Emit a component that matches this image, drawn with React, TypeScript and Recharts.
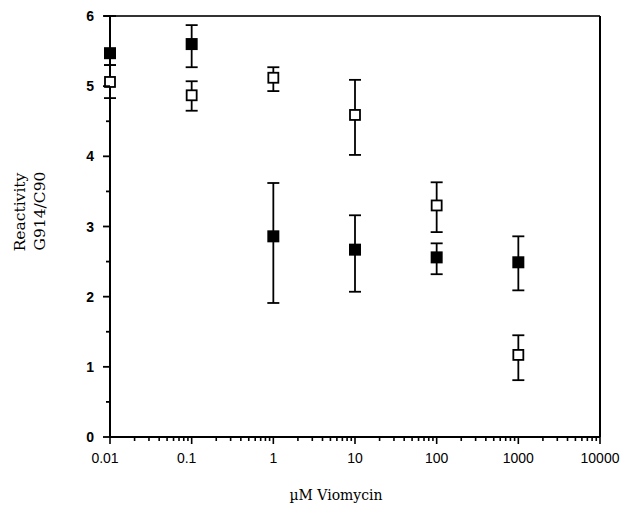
import React from 'react';
import { ScatterChart, Scatter, XAxis, YAxis, ErrorBar, ReferenceLine } from 'recharts';

const concentrations = [0.01, 0.1, 1, 10, 100, 1000];
const filledValues = [5.47, 5.6, 2.86, 2.67, 2.56, 2.49];
const filledErrLow = [0.17, 0.33, 0.95, 0.6, 0.24, 0.4];
const filledErrHigh = [0.53, 0.27, 0.76, 0.49, 0.2, 0.37];
const openValues = [5.06, 4.87, 5.12, 4.59, 3.3, 1.17];
const openErrLow = [0.23, 0.22, 0.19, 0.57, 0.38, 0.36];
const openErrHigh = [0.24, 0.2, 0.15, 0.5, 0.33, 0.28];

const xMajorTicks = [0.01, 0.1, 1, 10, 100, 1000, 10000];
const xMinorMultipliers = [2, 3, 4, 5, 6, 7, 8, 9];
const yMajorTicks = [0, 1, 2, 3, 4, 5, 6];
const yMinorTicks = [0.5, 1.5, 2.5, 3.5, 4.5, 5.5];

const xTicks: number[] = [];
xMajorTicks.forEach((m, i) => {
  xTicks.push(m);
  if (i < xMajorTicks.length - 1) xMinorMultipliers.forEach((k) => xTicks.push(Number((m * k).toPrecision(3))));
});
const yTicks = [...yMajorTicks, ...yMinorTicks].sort((a, b) => a - b);

const filledData = concentrations.map((x, i) => ({ x, y: filledValues[i], err: [filledErrLow[i], filledErrHigh[i]] }));
const openData = concentrations.map((x, i) => ({ x, y: openValues[i], err: [openErrLow[i], openErrHigh[i]] }));

const isMajorX = (v: number) => xMajorTicks.some((m) => Math.abs(m - v) / m < 1e-6);

const XTick = (props: any) => {
  const { x, y, payload } = props;
  const v = payload.value;
  const major = isMajorX(v);
  const label = String(v);
  return (
    <g>
      <line x1={x} x2={x} y1={y} y2={y + (major ? 7 : 4)} stroke="#000" strokeWidth={1.6} />
      {major && (
        <text x={x + (label.includes('.') ? -5 : 0)} y={y + 26} textAnchor="middle" fontFamily="Liberation Sans, Arial, sans-serif" fontSize={14} fill="#000">
          {label}
        </text>
      )}
    </g>
  );
};

const YTick = (props: any) => {
  const { x, y, payload } = props;
  const v = payload.value;
  const major = yMajorTicks.includes(v);
  return (
    <g>
      <line x1={x} x2={x - (major ? 7 : 4)} y1={y} y2={y} stroke="#000" strokeWidth={1.8} />
      {major && (
        <text x={x - 16} y={y} textAnchor="end" dominantBaseline="central" fontFamily="Liberation Sans, Arial, sans-serif" fontWeight="bold" fontSize={14} fill="#000">
          {v}
        </text>
      )}
    </g>
  );
};

const FilledSquare = (props: any) => {
  const { cx, cy } = props;
  return <rect x={cx - 6} y={cy - 6} width={12} height={12} fill="#000" />;
};

const OpenSquare = (props: any) => {
  const { cx, cy } = props;
  return <rect x={cx - 5} y={cy - 5} width={10} height={10} fill="#fff" stroke="#000" strokeWidth={1.8} />;
};

const serif = 'DejaVu Serif, Liberation Serif, serif';

export default function App() {
  return (
    <div style={{ position: 'absolute', left: 0, top: 0, width: 626, height: 505, background: '#fff' }}>
      <ScatterChart width={626} height={505} margin={{ top: 16, right: 26, left: 0, bottom: 0 }}>
        <XAxis
          type="number"
          dataKey="x"
          scale="log"
          domain={[0.01, 10000]}
          ticks={xTicks}
          interval={0}
          tick={<XTick />}
          tickLine={false}
          tickSize={0}
          tickMargin={0}
          height={68}
          axisLine={{ stroke: '#000', strokeWidth: 2 }}
        />
        <YAxis
          type="number"
          dataKey="y"
          domain={[0, 6]}
          ticks={yTicks}
          interval={0}
          tick={<YTick />}
          tickLine={false}
          tickSize={0}
          tickMargin={0}
          width={110}
          axisLine={{ stroke: '#000', strokeWidth: 2 }}
        />
        <ReferenceLine y={6} stroke="#333" strokeWidth={2} />
        <ReferenceLine x={10000} stroke="#000" strokeWidth={2} />
        <Scatter data={openData} shape={<OpenSquare />} isAnimationActive={false}>
          <ErrorBar dataKey="err" direction="y" width={6} stroke="#000" strokeWidth={1.8} />
        </Scatter>
        <Scatter data={filledData} shape={<FilledSquare />} isAnimationActive={false}>
          <ErrorBar dataKey="err" direction="y" width={6} stroke="#000" strokeWidth={1.8} />
        </Scatter>
        <text x={20} y={212} transform="rotate(-90 20 212)" textAnchor="middle" dominantBaseline="central" fontFamily={serif} fontSize={15.5} fill="#000">
          Reactivity
        </text>
        <text x={40} y={211} transform="rotate(-90 40 211)" textAnchor="middle" dominantBaseline="central" fontFamily={serif} fontSize={15.5} fill="#000">
          G914/C90
        </text>
        <text x={336} y={495} textAnchor="middle" dominantBaseline="central" fontFamily={serif} fontSize={14} fill="#000">
          µM Viomycin
        </text>
      </ScatterChart>
    </div>
  );
}
